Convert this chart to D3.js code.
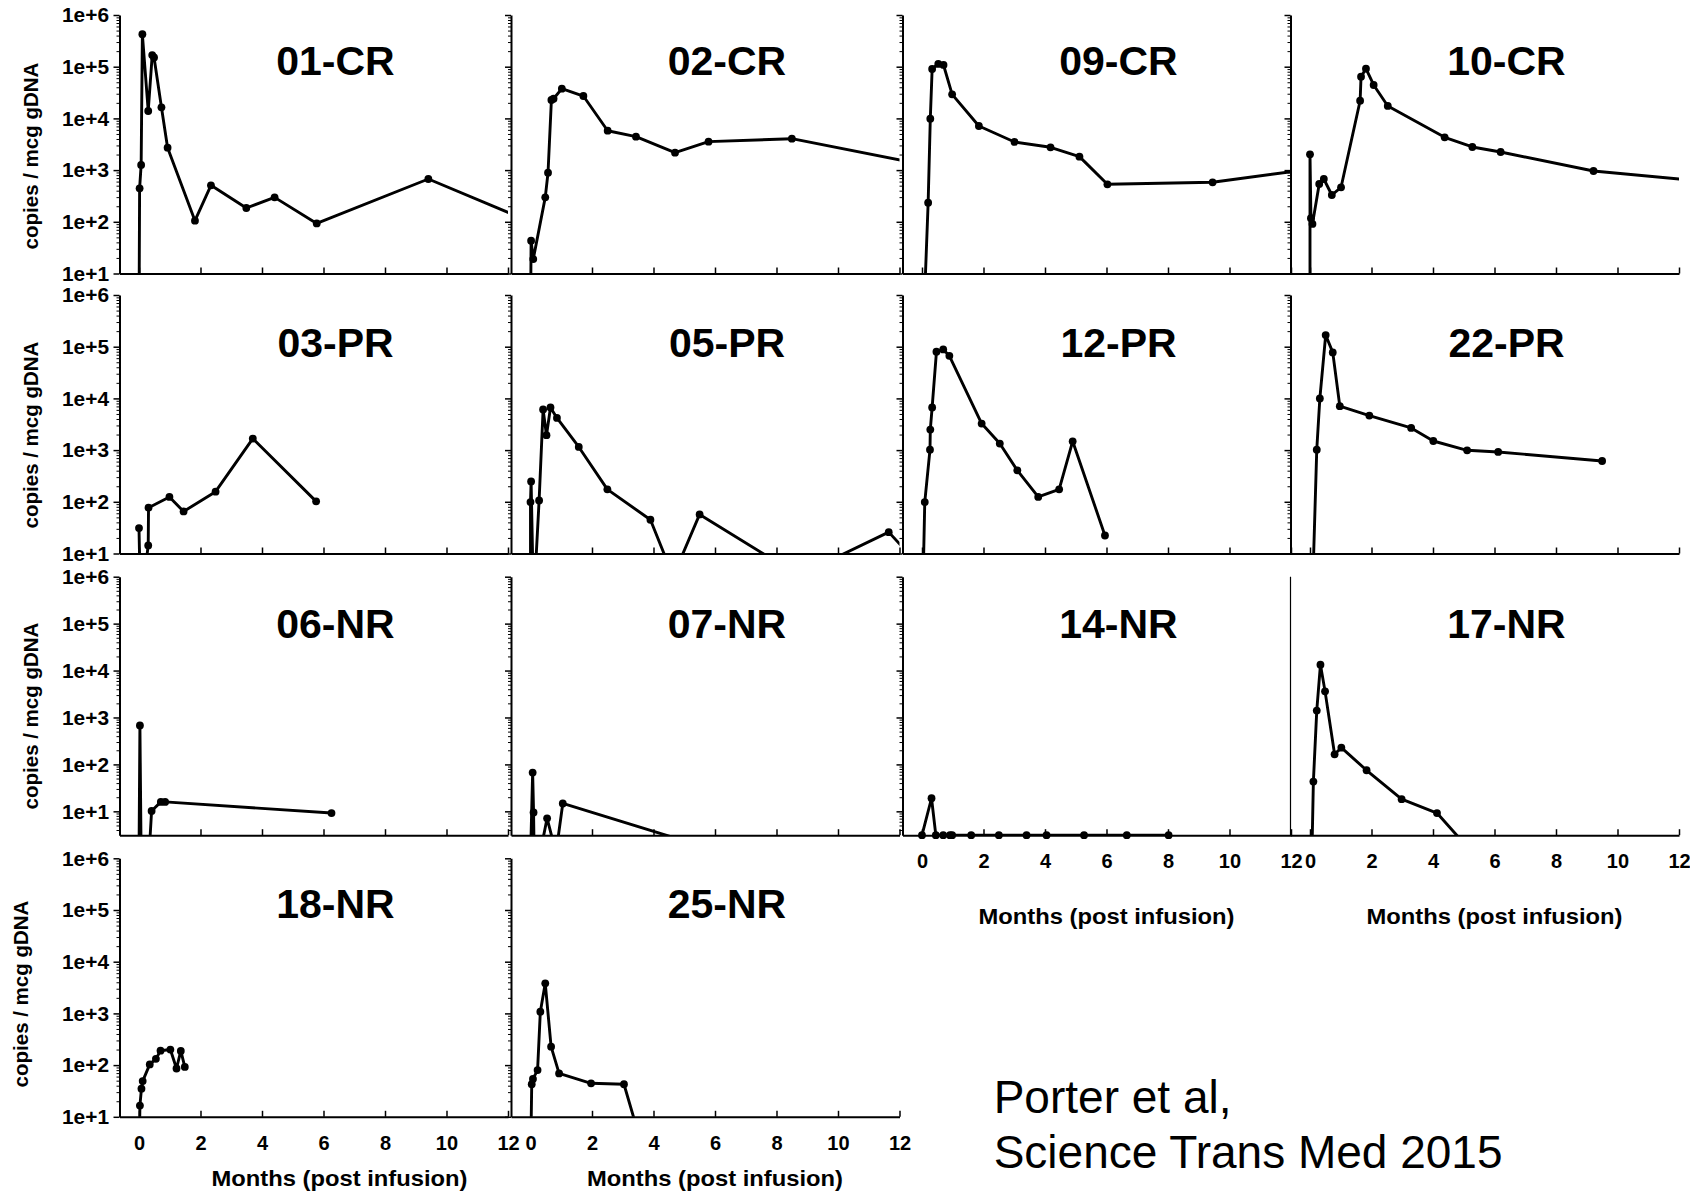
<!DOCTYPE html>
<html><head><meta charset="utf-8">
<script src="https://cdn.jsdelivr.net/npm/d3@7"></script>
<style>
html,body{margin:0;padding:0;background:#fff;}
svg{display:block;}
text{font-family:"Liberation Sans",Arial,Helvetica,sans-serif;fill:#000;}
</style></head><body>
<svg id="chart" width="1690" height="1192"></svg>
<script>
// ---------------- data (months post infusion, copies / mcg gDNA) ----------------
const panelIds = ["01-CR","02-CR","09-CR","10-CR","03-PR","05-PR","12-PR","22-PR","06-NR","07-NR","14-NR","17-NR","18-NR","25-NR"];

const months_01CR = [0, 0.02, 0.07, 0.11, 0.30, 0.43, 0.49, 0.73, 0.93, 1.82, 2.34, 3.49, 4.41, 5.78, 9.41, 13];
const copies_01CR = [1, 445, 1260, 424000, 13900, 168000, 151000, 16400, 2710, 105, 508, 185, 297, 93, 673, 86];

const months_02CR = [0, 0.02, 0.09, 0.48, 0.57, 0.68, 0.75, 1.02, 1.72, 2.51, 3.43, 4.70, 5.79, 8.50, 13];
const copies_02CR = [1, 43, 19, 297, 890, 22700, 24000, 37600, 27100, 5780, 4430, 2170, 3550, 4050, 1200];

const months_09CR = [0.05, 0.20, 0.27, 0.33, 0.53, 0.70, 0.98, 1.85, 3.01, 4.18, 5.12, 6.03, 9.45, 13];
const copies_09CR = [1, 234, 9860, 90300, 113000, 108000, 29200, 7130, 3500, 2760, 1820, 531, 581, 1117];

const months_10CR = [0, 0, 0.03, 0.08, 0.30, 0.45, 0.71, 1.01, 1.63, 1.66, 1.82, 2.07, 2.53, 4.38, 5.28, 6.20, 9.22, 13];
const copies_10CR = [1, 2020, 117, 91, 538, 673, 330, 465, 22000, 64100, 91600, 44300, 17400, 4300, 2800, 2240, 961, 593];

const months_03PR = [0, 0.05, 0.30, 0.31, 0.99, 1.45, 2.49, 3.70, 5.76];
const copies_03PR = [31, 1, 14.3, 77, 124, 65, 157, 1670, 102];

const months_05PR = [0, 0, 0.02, 0.10, 0.28, 0.41, 0.52, 0.65, 0.86, 1.57, 2.50, 3.90, 4.64, 5.50, 8.72, 11.65, 13];
const copies_05PR = [1, 99, 248, 1, 106, 6100, 1940, 6670, 4190, 1150, 174, 45, 3.6, 57, 3.75, 25.9, 3.5];

const months_12PR = [0.02, 0.09, 0.26, 0.27, 0.33, 0.47, 0.69, 0.89, 1.94, 2.53, 3.10, 3.78, 4.46, 4.90, 5.95];
const copies_12PR = [1, 99, 1020, 2500, 6670, 79800, 88500, 66700, 3260, 1340, 406, 124, 174, 1480, 22.3];

const months_22PR = [0.07, 0.22, 0.32, 0.51, 0.74, 0.97, 1.93, 3.29, 4.01, 5.11, 6.12, 9.50];
const copies_22PR = [1, 1020, 9950, 168000, 77600, 7060, 4660, 2690, 1500, 991, 920, 615];

const months_06NR = [0, 0.03, 0.07, 0.32, 0.41, 0.71, 0.85, 6.26];
const copies_06NR = [1, 676, 1, 1, 10.2, 15.9, 15.9, 9.2];

const months_07NR = [0, 0.07, 0.10, 0.12, 0.28, 0.54, 0.83, 1.05, 6.85];
const copies_07NR = [1, 67, 9.5, 1, 1, 7.1, 1.3, 14.7, 1];

const months_14NR = [0.0, 0.31, 0.45, 0.69, 0.91, 0.98, 1.6, 2.5, 3.4, 4.05, 5.27, 6.66, 8.02];
const copies_14NR = [3.1, 19, 3.1, 3.1, 3.1, 3.1, 3.1, 3.1, 3.1, 3.1, 3.1, 3.1, 3.1];

const months_17NR = [0.06, 0.11, 0.22, 0.34, 0.49, 0.80, 1.02, 1.84, 2.98, 4.13, 5.44];
const copies_17NR = [1, 43, 1400, 13300, 3600, 164, 227, 75, 18.2, 9.2, 1];

const months_18NR = [0, 0.03, 0.08, 0.12, 0.35, 0.55, 0.70, 1.02, 1.22, 1.36, 1.49];
const copies_18NR = [1, 16.5, 35, 49, 103, 132, 190, 200, 86, 188, 92];

const months_25NR = [0, 0.04, 0.08, 0.23, 0.32, 0.48, 0.67, 0.93, 1.97, 3.04, 3.84];
const copies_25NR = [1, 42.6, 54, 80, 1080, 3820, 227, 69, 44.5, 42.6, 1];

const yTickValues = [1e1, 1e2, 1e3, 1e4, 1e5, 1e6];
const yTickLabels = ["1e+1", "1e+2", "1e+3", "1e+4", "1e+5", "1e+6"];
const xTickValues = [0, 2, 4, 6, 8, 10, 12];
const xTickLabels = ["0", "2", "4", "6", "8", "10", "12"];
const yAxisTitle = "copies / mcg gDNA";
const xAxisTitle = "Months (post infusion)";
const citation = ["Porter et al,", "Science Trans Med 2015"];

const seriesMonths = [months_01CR, months_02CR, months_09CR, months_10CR, months_03PR, months_05PR, months_12PR, months_22PR,
                      months_06NR, months_07NR, months_14NR, months_17NR, months_18NR, months_25NR];
const seriesCopies = [copies_01CR, copies_02CR, copies_09CR, copies_10CR, copies_03PR, copies_05PR, copies_12PR, copies_22PR,
                      copies_06NR, copies_07NR, copies_14NR, copies_17NR, copies_18NR, copies_25NR];

// ---------------- layout ----------------
const colLeft = [119.5, 511, 902.5, 1290.5];
const rowTop = [15, 295, 576.7, 858.3];
const plotW = 388.5, plotH = 258.5;
const xMin = -0.634;
const rowYMin = [10, 10, 3.1, 10];
const xLabelPanels = [10, 11, 12, 13];
const xLabelSpacing = [0, 0, 19, 19];
const xTitleBaseline = [0, 0, 89, 69];
const yTitleCenter = [156, 435, 716, 994];
const yTitleX = [37.5, 37.5, 37.5, 28];
const titleBaseline = [59.5, 61.5, 61.5, 60];

const svg = d3.select("#chart");
svg.append("rect").attr("width", 1690).attr("height", 1192).attr("fill", "#fff");

panelIds.forEach((id, i) => {
  const r = Math.floor(i / 4), c = i % 4;
  const g = svg.append("g").attr("transform", `translate(${colLeft[c]},${rowTop[r]})`);
  const yMin = rowYMin[r];
  const x = d3.scaleLinear().domain([xMin, 12]).range([0, plotW]);
  const y = d3.scaleLog().domain([yMin, 1e6]).range([plotH, 0]);

  // y axis
  if (r === 2 && c === 3) {
    g.append("line").attr("x1", 0).attr("x2", 0).attr("y1", 0).attr("y2", plotH)
      .attr("stroke", "#000").attr("stroke-width", 1.2);
  } else {
    const minor = [];
    for (let d = Math.floor(Math.log10(yMin)); d < 6; d++) {
      for (let k = 2; k <= 9; k++) {
        const v = k * Math.pow(10, d);
        if (v > yMin && v < 1e6) minor.push(v);
      }
    }
    const gm = g.append("g").call(d3.axisLeft(y).tickValues(minor).tickSize(3).tickSizeOuter(0).tickFormat(""));
    gm.select(".domain").remove();
    gm.selectAll(".tick line").attr("stroke-width", 1);
    const ga = g.append("g").call(d3.axisLeft(y).tickValues(yTickValues).tickSize(6).tickSizeOuter(0).tickPadding(4.5)
      .tickFormat(d => c === 0 ? yTickLabels[yTickValues.indexOf(d)] : ""));
    ga.select(".domain").attr("stroke-width", 2);
    ga.selectAll(".tick line").attr("stroke-width", 1.5);
    ga.selectAll(".tick text").attr("font-size", 21).attr("font-weight", "bold")
      .attr("font-family", '"Liberation Sans",Arial,sans-serif').attr("fill", "#000");
    if (c === 0) {
      ga.selectAll(".tick text").attr("textLength", 47).attr("lengthAdjust", "spacingAndGlyphs");
    }
  }

  // x axis
  const showX = xLabelPanels.includes(i);
  const gx = g.append("g").attr("transform", `translate(0,${plotH})`)
    .call(d3.axisBottom(x).tickValues(xTickValues).tickSizeInner(-6).tickSizeOuter(0)
      .tickPadding(showX ? xLabelSpacing[r] : 3)
      .tickFormat(d => showX ? xTickLabels[xTickValues.indexOf(d)] : ""));
  gx.select(".domain").attr("stroke-width", 2);
  gx.selectAll(".tick line").attr("stroke-width", 1.5);
  gx.selectAll(".tick text").attr("font-size", 20).attr("font-weight", "bold")
    .attr("font-family", '"Liberation Sans",Arial,sans-serif').attr("fill", "#000");

  if (showX) {
    g.append("text").attr("x", x(6) + (c === 0 ? 16 : 0)).attr("y", plotH + xTitleBaseline[r])
      .attr("text-anchor", "middle").attr("font-size", 22).attr("font-weight", "bold")
      .attr("textLength", 256).attr("lengthAdjust", "spacingAndGlyphs")
      .text(xAxisTitle);
  }

  // data
  const pts = seriesMonths[i].map((m, k) => ({m: m, v: seriesCopies[i][k]}));
  const cid = "clip" + i;
  g.append("clipPath").attr("id", cid).append("rect")
    .attr("x", 0).attr("y", -6).attr("width", plotW).attr("height", plotH + 6);
  const line = d3.line().x(d => x(d.m)).y(d => y(d.v));
  g.append("path").datum(pts).attr("d", line).attr("clip-path", `url(#${cid})`)
    .attr("fill", "none").attr("stroke", "#000").attr("stroke-width", 2.9).attr("stroke-linejoin", "round");
  g.selectAll("circle.pt").data(pts.filter(d => d.v >= yMin * 0.999 && d.m <= 12))
    .enter().append("circle").attr("class", "pt")
    .attr("cx", d => x(d.m)).attr("cy", d => y(d.v)).attr("r", 3.9).attr("fill", "#000");

  // panel title
  g.append("text").attr("x", 216).attr("y", titleBaseline[r])
    .attr("text-anchor", "middle").attr("font-size", 41).attr("font-weight", "bold").text(id);

  // y axis title
  if (c === 0) {
    svg.append("text").attr("transform", `translate(${yTitleX[r]},${yTitleCenter[r]}) rotate(-90)`)
      .attr("text-anchor", "middle").attr("font-size", 20.5).attr("font-weight", "bold").text(yAxisTitle);
  }
});

// citation
svg.append("text").attr("x", 993.7).attr("y", 1112.5).attr("font-size", 46).text(citation[0]);
svg.append("text").attr("x", 993.7).attr("y", 1167.5).attr("font-size", 46).text(citation[1]);
</script>
</body></html>
